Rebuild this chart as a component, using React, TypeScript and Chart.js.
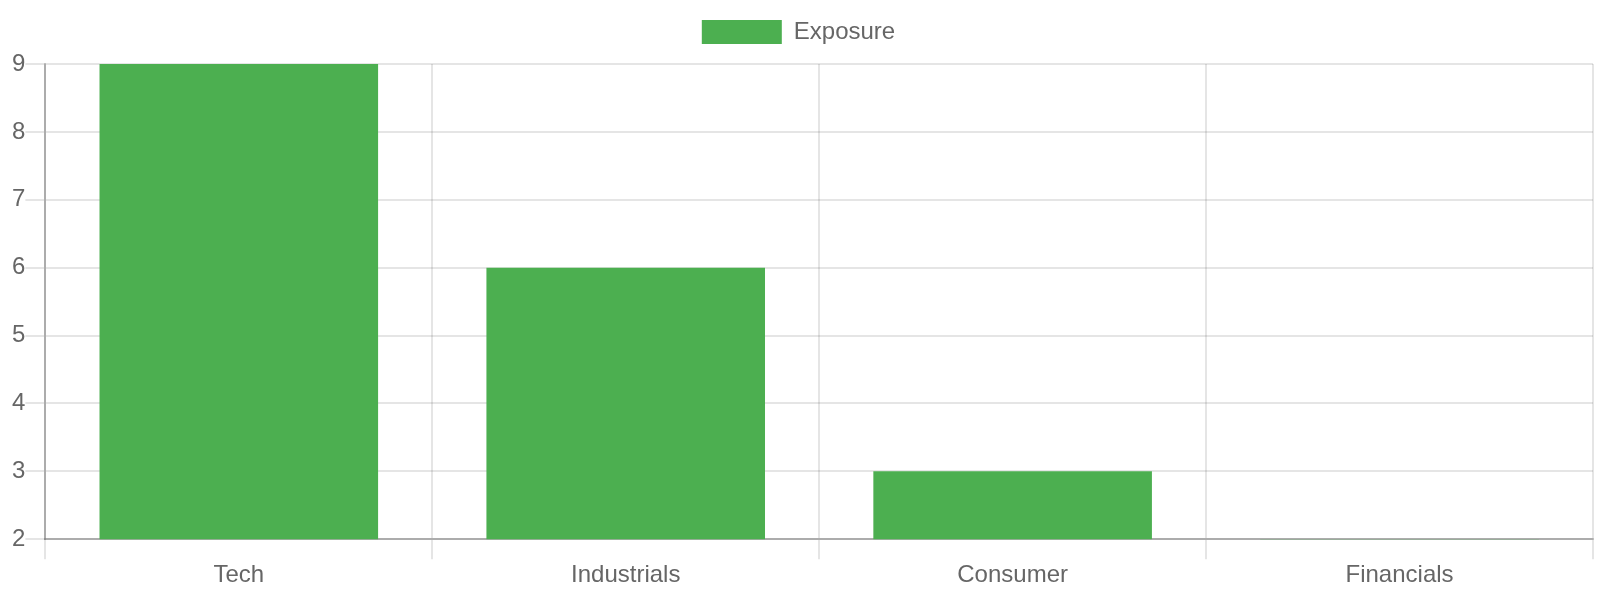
import React, { useEffect, useRef } from "react";
import { Chart, registerables } from "chart.js";

Chart.register(...registerables);

const categories = ["Tech", "Industrials", "Consumer", "Financials"];
const exposure = [9, 6, 3, 2];
const seriesLabel = "Exposure";

const legendSpacing = {
  id: "legendSpacing",
  beforeInit(chart: any) {
    const legend = chart.legend;
    if (!legend) return;
    const origFit = legend.fit;
    legend.fit = function () {
      origFit.call(this);
      this.height += 10;
      if (this.lineWidths && this.lineWidths.length) this.lineWidths[0] += 8;
    };
  },
};

export default function App() {
  const ref = useRef<HTMLCanvasElement | null>(null);
  useEffect(() => {
    if (!ref.current) return;
    const font = { family: "'Liberation Sans', Arial, sans-serif", size: 24 };
    const chart = new Chart(ref.current, {
      type: "bar",
      data: {
        labels: categories,
        datasets: [
          {
            label: seriesLabel,
            data: exposure,
            backgroundColor: "#4CAF50",
            borderWidth: 0,
            categoryPercentage: 0.8,
            barPercentage: 0.9,
          },
        ],
      },
      plugins: [legendSpacing],
      options: {
        animation: false,
        responsive: true,
        maintainAspectRatio: false,
        layout: { padding: { left: 12, right: 7, top: 0, bottom: 8 } },
        plugins: {
          legend: {
            display: true,
            labels: {
              color: "#666",
              font,
              boxWidth: 80,
              boxHeight: 24,
              padding: 20,
            },
          },
          tooltip: { enabled: false },
        },
        scales: {
          x: {
            grid: {
              color: "rgba(0,0,0,0.1)",
              lineWidth: 2,
              tickLength: 20,
              offset: true,
            },
            border: { color: "rgba(0,0,0,0.25)", width: 2 },
            ticks: { color: "#666", font, padding: 2 },
          },
          y: {
            beginAtZero: false,
            min: 2,
            max: 9,
            grid: {
              color: "rgba(0,0,0,0.1)",
              lineWidth: 2,
              tickLength: 20,
            },
            border: { color: "rgba(0,0,0,0.25)", width: 2 },
            ticks: { color: "#666", font, padding: 0, stepSize: 1 },
          },
        },
      },
    });
    return () => chart.destroy();
  }, []);
  return (
    <div style={{ position: "absolute", left: 0, top: 0, width: 1600, height: 600 }}>
      <canvas ref={ref} />
    </div>
  );
}
